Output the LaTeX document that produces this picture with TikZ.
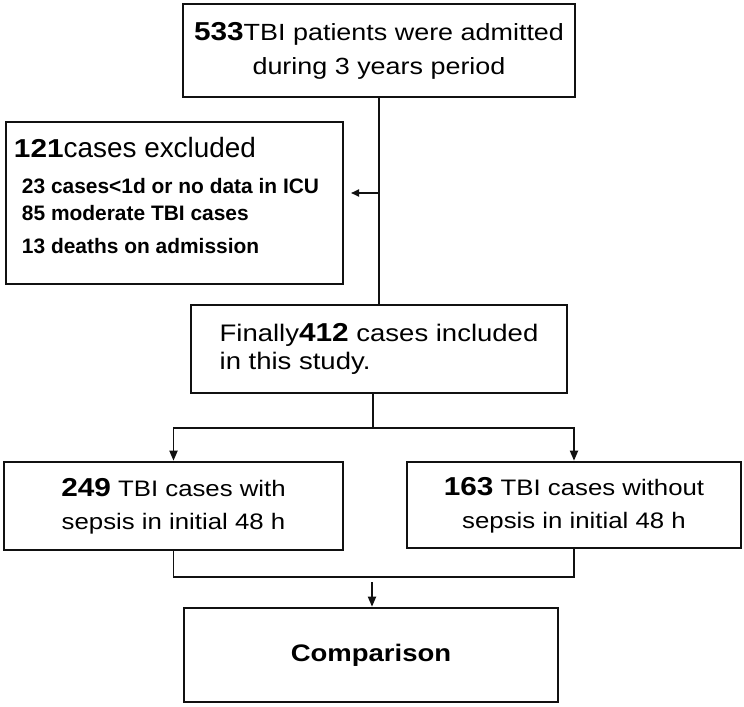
\documentclass[tikz,border=0pt]{standalone}
\usepackage{fontspec}
\setmainfont{Liberation Sans}
\newfontfamily\widesf[FakeStretch=1.15]{Liberation Sans}
\usetikzlibrary{arrows.meta,positioning}
\definecolor{Ink}{HTML}{111111}
\tikzset{
  >={Triangle[length=10bp,width=8bp]},
  box/.style={draw=Ink,line width=2.6bp,fill=white,inner sep=0pt},
  flow/.style={draw=Ink,line width=1.8bp},
  arr/.style={flow,->},
  tinyarr/.style={flow,-{Triangle[length=8bp,width=7bp]}},
  headfont/.style={font=\widesf\fontsize{23.5}{34}\selectfont},
  subfont/.style={font=\widesf\fontsize{22.5}{33}\selectfont}
}
\newcommand\bignum[1]{{\widesf\fontsize{26}{33}\selectfont\bfseries #1}}

\begin{document}
\begin{tikzpicture}[x=1bp,y=-1bp]
  \useasboundingbox (0,0) rectangle (744,707);
  % admission
  \node[box,headfont,align=center,minimum width=392bp,minimum height=93bp] (adm) at (379,50.5)
    {\bignum{533}TBI patients were admitted\\during 3 years period};
  % exclusions
  \node[box,minimum width=337bp,minimum height=162bp,
        font=\fontsize{21}{30}\selectfont\bfseries] (exc) at (174.5,203)
    {\begin{minipage}[c][162bp][t]{321bp}\raggedright
      \vspace*{15bp}%
      {\fontsize{28}{31}\selectfont\mdseries\bignum{121}cases excluded}\\[6bp]
      \hspace*{8bp}23 cases<1d or no data in ICU\\[-2bp]
      \hspace*{8bp}85 moderate TBI cases\\[3bp]
      \hspace*{8bp}13 deaths on admission
     \end{minipage}};
  % included
  \node[box,font=\widesf\fontsize{24}{28}\selectfont,align=left,minimum width=376bp,minimum height=88bp] (fin) at (379,349)
    {Finally\bignum{412} cases included\\in this study.};
  % groups
  \node[box,subfont,align=center,minimum width=339bp,minimum height=88bp] (lft) at (173.5,506)
    {\bignum{249} TBI cases with\\sepsis in initial 48 h};
  \node[box,subfont,align=center,minimum width=334bp,minimum height=86bp] (rgt) at (574,505)
    {\bignum{163} TBI cases without\\sepsis in initial 48 h};
  \node[box,font=\widesf\fontsize{24}{30}\selectfont\bfseries,minimum width=374bp,minimum height=94bp] (cmp) at (371,655)
    {Comparison};

  \coordinate (tap) at (378,193);
  \coordinate (tip) at (351,193);
  \coordinate (split) at (373,428);
  \coordinate (merge) at (372,577);

  \draw[flow] (adm.south) -- (adm.south |- fin.north);
  \draw[tinyarr] (tap) -- (tip);
  \draw[flow] (fin.south -| split) -- (split);
  \draw[arr] (split) -| (lft.north);
  \draw[arr] (split) -| (rgt.north);
  \draw[flow] (lft.south) |- (merge) -| (rgt.south);
  \draw[arr,shorten <=5bp] (merge) -- (merge |- cmp.north);
\end{tikzpicture}
\end{document}
